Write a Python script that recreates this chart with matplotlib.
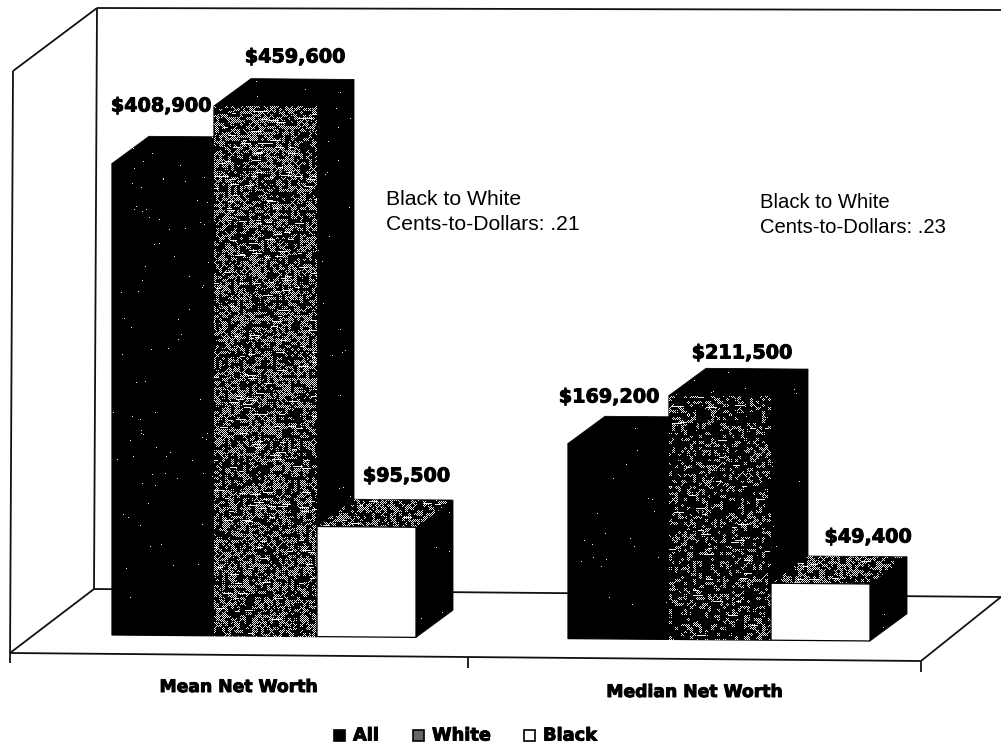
import numpy as np
import matplotlib
matplotlib.use("Agg")
import matplotlib.pyplot as plt
import matplotlib.patheffects as pe
from matplotlib.patches import Polygon, Rectangle
from matplotlib.transforms import Affine2D

# Chart values, in dollars
groups = ["Mean Net Worth", "Median Net Worth"]
series = ["All", "White", "Black"]
all_values = [408900, 169200]
white_values = [459600, 211500]
black_values = [95500, 49400]
value_labels = [
    ["$408,900", "$459,600", "$95,500"],
    ["$169,200", "$211,500", "$49,400"],
]
gap_notes = [
    "Black to White\nCents-to-Dollars: .21",
    "Black to White\nCents-to-Dollars: .23",
]

# Canvas layout, in pixels from the top left corner
W, H = 1001, 747
PX_PER_DOLLAR = 1.153 / 1000
BASE_AT_ZERO = 634.1
SLOPE = 0.0079
BAR_EDGES = [[112, 214, 317, 416], [568, 669, 771, 870]]
DEPTH_X = 37
DEPTH_V = 27.5 / PX_PER_DOLLAR

fig = plt.figure(figsize=(W / 100, H / 100), dpi=100, facecolor="white")

# Pixel-addressed layer for walls, floor and text anchors
ax_px = fig.add_axes([0, 0, 1, 1], zorder=0)
ax_px.set_xlim(0, W)
ax_px.set_ylim(H, 0)
ax_px.axis("off")

# Value-addressed layer for the bars
ax = fig.add_axes([0, 0, 1, 1], zorder=1)
ax.patch.set_visible(False)
ax.axis("off")
y_bottom = (BASE_AT_ZERO - H) / PX_PER_DOLLAR
y_top = BASE_AT_ZERO / PX_PER_DOLLAR
tilt = Affine2D(np.array([[1, 0, 0], [-SLOPE / PX_PER_DOLLAR, 1, 0], [0, 0, 1]])) + ax.transData

# Wall and floor outlines
frame_lines = [
    ((13, 71), (97, 8)),
    ((97, 8), (1001, 10)),
    ((13, 71), (10, 663)),
    ((97, 8), (94, 589)),
    ((10, 653), (94, 589)),
    ((94, 589), (1001, 597)),
    ((10, 653), (921, 661)),
    ((921, 661), (1001, 597)),
    ((468, 657), (468, 668)),
    ((921, 661), (921, 672)),
]
for (x0, y0), (x1, y1) in frame_lines:
    ax_px.plot([x0, x1], [y0, y1], color="#111111", lw=1.3, solid_capstyle="butt")


def stipple(density, seed, sparse=False):
    """Black-and-white print screen used for the shaded faces."""
    rng = np.random.default_rng(seed)
    out = np.zeros((H, W, 4))
    if sparse:
        mask = rng.random((H, W)) < density
    else:
        cell = 3
        coarse = rng.random((H // cell + 2, W // cell + 2))
        patch = np.kron(coarse, np.ones((cell, cell)))[:H, :W]
        yy, xx = np.mgrid[0:H, 0:W]
        checker = (xx + yy) % 2 == 0
        mask = checker & (patch < density) & (rng.random((H, W)) < 0.85)
        # short bright dashes that run along the scan lines
        for _ in range(int(5000 * density)):
            r, c = rng.integers(0, H), rng.integers(0, W - 12)
            mask[r, c:c + rng.integers(4, 11)] = True
    out[..., :3] = 0.93
    out[..., 3] = mask
    return out


dense_mean = stipple(0.55, 3)
dense_median = stipple(0.30, 5)
specks = stipple(0.0015, 7, sparse=True)


def face(verts, fill, texture=None, z=2.0):
    poly = Polygon(verts, closed=True, facecolor=fill, edgecolor="black", lw=0.6,
                   transform=tilt, zorder=z)
    ax.add_patch(poly)
    if texture is not None:
        img = ax.imshow(texture, extent=(0, W, y_bottom, y_top), origin="upper",
                        aspect="auto", interpolation="nearest", zorder=z + 0.01)
        img.set_clip_path(poly)


def draw_bar(l, r, value, front, top, side, order):
    z = 2 + order
    # front face drawn as a real bar from the value
    front_fill, front_tex = front
    bars = ax.bar(l, value, width=r - l, align="edge", color=front_fill, edgecolor="black",
                  linewidth=0.9, transform=tilt, zorder=z + 0.5)
    if front_tex is not None:
        img = ax.imshow(front_tex, extent=(0, W, y_bottom, y_top), origin="upper",
                        aspect="auto", interpolation="nearest", zorder=z + 0.6)
        img.set_clip_path(bars[0])
    face([(l, value), (l + DEPTH_X, value + DEPTH_V), (r + DEPTH_X, value + DEPTH_V), (r, value)],
         top[0], top[1], z)
    face([(r, 0), (r + DEPTH_X, DEPTH_V), (r + DEPTH_X, value + DEPTH_V), (r, value)],
         side[0], side[1], z)


for g, e in enumerate(BAR_EDGES):
    screen = dense_mean if g == 0 else dense_median
    draw_bar(e[0], e[1], all_values[g], ("black", specks), ("black", specks), ("black", specks), 0)
    draw_bar(e[1], e[2], white_values[g], ("black", screen), ("black", specks), ("black", specks), 1)
    draw_bar(e[2], e[3], black_values[g], ("white", None), ("black", dense_mean), ("black", specks), 2)

ax.set_xlim(0, W)
ax.set_ylim(y_bottom, y_top)

# Value labels, category labels and notes
heavy = [pe.withStroke(linewidth=0.7, foreground="black")]
bold = dict(family="DejaVu Sans", fontweight="bold", color="black", ha="center", va="center",
            transform=ax_px.transData, zorder=10, path_effects=heavy)
label_spots = [
    [(161, 106), (295, 57), (406.5, 476)],
    [(609, 397), (742, 353), (868, 537)],
]
for row, spots in zip(value_labels, label_spots):
    for text, (x, y) in zip(row, spots):
        ax.text(x, y, text, fontsize=13.8, **bold)

for name, (x, y) in zip(groups, [(239, 687), (695, 692)]):
    ax.text(x, y, name, fontsize=12.4, **bold)

for note, (x, y), size in zip(gap_notes, [(386, 212), (760, 215)], [15.2, 14.6]):
    ax.text(x, y, note, family="Liberation Sans", fontsize=size, color="black", ha="left",
            va="center", linespacing=1.42, transform=ax_px.transData, zorder=10)

# Key below the chart
key_spots = [(334, 353), (413, 432), (524, 543)]
key_faces = ["black", "#666666", "white"]
for name, (sx, tx), fc in zip(series, key_spots, key_faces):
    ax_px.add_patch(Rectangle((sx, 730), 11, 11, facecolor=fc, edgecolor="black", lw=1.2))
    ax.text(tx, 735.5, name, fontsize=12.8, **{**bold, "ha": "left"})

fig.savefig("out.png", dpi=100, facecolor="white")
